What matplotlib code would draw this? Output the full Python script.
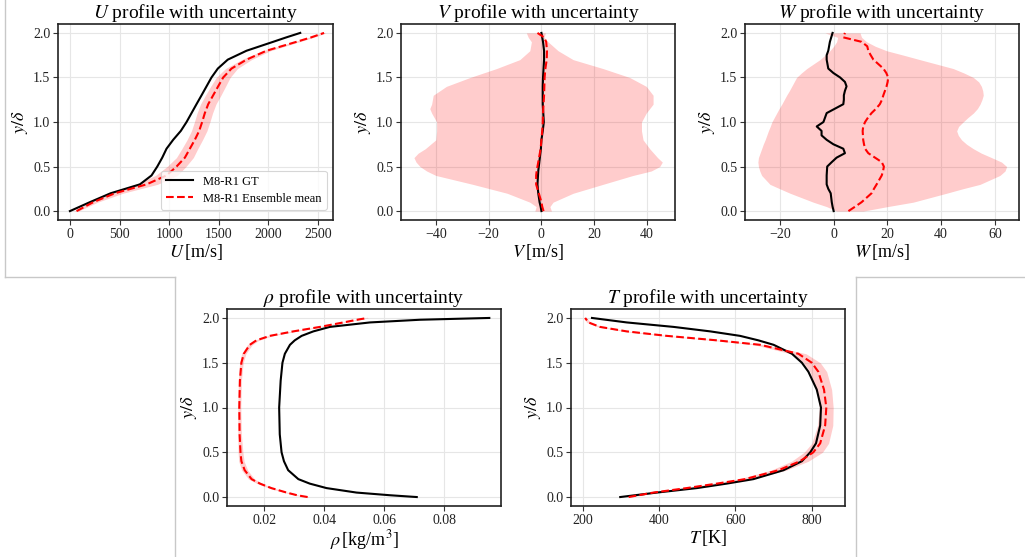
import matplotlib
matplotlib.use("Agg")
import matplotlib.pyplot as plt
from matplotlib.lines import Line2D
import numpy as np

plt.rcParams.update({
    'font.family': 'serif',
    'font.serif': ['Liberation Serif', 'DejaVu Serif'],
    'mathtext.fontset': 'stix',
    'font.size': 10,
    'axes.linewidth': 1.2,
    'axes.edgecolor': '#222222',
    'xtick.major.size': 3.5,
    'ytick.major.size': 3.5,
    'xtick.color': '#333333',
    'ytick.color': '#333333',
    'xtick.labelcolor': '#222222',
    'ytick.labelcolor': '#222222',
})

# ---- U profile ----
y_u = [0.0, 0.1, 0.2, 0.3, 0.4, 0.5, 0.6, 0.7, 0.8, 0.9, 1.0,
       1.1, 1.2, 1.3, 1.4, 1.5, 1.6, 1.7, 1.8, 1.9, 1.95, 2.0]
u_gt = [0, 201, 410, 705, 822, 880, 930, 973, 1040, 1117, 1175,
        1225, 1275, 1326, 1376, 1426, 1490, 1590, 1779, 2047, 2180, 2320]
u_mean = [67, 235, 453, 772, 973, 1074, 1158, 1208, 1258, 1302, 1332,
          1359, 1393, 1443, 1493, 1544, 1628, 1779, 1980, 2282, 2430, 2560]
u_spread = [20, 45, 80, 110, 110, 95, 85, 80, 78, 78, 78,
            78, 78, 78, 75, 70, 60, 50, 40, 30, 25, 20]

# ---- V profile ----
y_v = [0.0, 0.05, 0.1, 0.2, 0.3, 0.4, 0.45, 0.5, 0.55, 0.6, 0.65, 0.7, 0.8, 0.9, 1.0,
       1.1, 1.15, 1.2, 1.3, 1.4, 1.5, 1.6, 1.7, 1.8, 1.9, 1.95, 2.0]
v_gt = [0.0, -0.3, -0.7, -1.2, -1.5, -1.3, -1.2, -1.0, -0.8, -0.6, -0.4, -0.2, 0.0, 0.5, 0.9,
        0.7, 0.6, 0.5, 0.5, 0.5, 0.6, 0.8, 1.0, 1.0, 0.6, 0.3, 0.0]
v_mean = [0.8, 0.3, 0.0, -1.0, -2.0, -2.0, -1.8, -1.5, -1.2, -0.9, -0.6, -0.3, 0.0, 0.3, 0.5,
          0.6, 0.7, 0.8, 1.0, 1.1, 1.2, 1.5, 2.0, 2.1, 1.8, 1.0, -1.5]
v_lo = [-2.5, -2.0, -4.4, -13.0, -26.0, -40.0, -43.5, -46.0, -47.5, -48.3, -46.7, -44.0, -40.0, -39.7, -39.7,
        -41.6, -42.3, -41.6, -41.0, -36.0, -27.0, -17.0, -8.2, -4.4, -3.8, -5.0, -5.7]
v_hi = [3.8, 3.2, 4.4, 12.0, 23.3, 34.7, 41.6, 44.8, 45.8, 44.0, 42.5, 41.0, 38.5, 37.9, 37.9,
        39.7, 41.0, 42.3, 42.3, 39.7, 33.4, 23.3, 12.0, 6.3, 2.5, 1.0, 1.5]

# ---- W profile ----
y_w = [0.0, 0.05, 0.1, 0.2, 0.25, 0.3, 0.4, 0.45, 0.5, 0.55, 0.6, 0.65, 0.7, 0.75, 0.8, 0.85,
       0.9, 0.95, 1.0, 1.05, 1.1, 1.15, 1.2, 1.25, 1.3, 1.35, 1.4, 1.45, 1.5, 1.55, 1.6,
       1.7, 1.75, 1.8, 1.85, 1.9, 1.95, 2.0]
w_gt = [0.0, -0.4, -0.7, -1.1, -2.0, -2.6, -2.6, -2.5, -2.4, -0.7, 1.1, 4.2, 3.6, -0.1, -2.6, -4.5,
        -4.5, -6.3, -3.8, -3.2, -2.6, 0.5, 3.6, 3.8, 3.8, 4.2, 4.8, 4.2, 2.4, -0.1, -2.0,
        -2.6, -2.6, -2.0, -1.7, -1.4, -0.9, -0.4]
w_mean = [5.5, 8.0, 10.4, 14.1, 15.0, 16.0, 17.9, 18.4, 18.7, 17.9, 15.4, 12.9, 11.7, 11.3, 11.0, 10.9,
          10.8, 11.0, 11.7, 12.8, 14.1, 15.8, 17.2, 18.0, 18.5, 19.1, 19.7, 20.1, 20.3, 19.6, 18.5,
          14.8, 13.8, 12.9, 12.5, 10.4, 3.6, 4.2]
w_lo = [1.1, -2.6, -7.6, -16.2, -20.0, -23.7, -26.8, -27.5, -28.0, -28.2, -28.0, -27.4, -26.8, -26.2, -25.5, -24.9,
        -24.3, -23.6, -23.0, -22.1, -21.2, -20.3, -19.3, -18.4, -17.5, -16.5, -15.6, -14.7, -13.8, -12.0, -10.0,
        -5.1, -3.2, -1.4, 0.0, 1.1, 1.5, -3.2]
w_hi = [11.0, 20.0, 29.6, 42.0, 48.0, 54.5, 61.9, 63.8, 64.4, 62.5, 58.8, 55.0, 52.0, 49.5, 47.6, 46.4,
        45.8, 46.5, 48.2, 50.0, 52.0, 53.5, 54.5, 55.2, 55.7, 55.5, 55.0, 54.0, 52.0, 48.5, 44.5,
        32.1, 26.0, 19.7, 15.5, 12.3, 10.4, 9.8]

# ---- rho profile ----
y_r = [0.0, 0.02, 0.05, 0.1, 0.15, 0.2, 0.3, 0.4, 0.5, 0.7, 1.0, 1.3, 1.5, 1.6, 1.7, 1.75,
       1.8, 1.85, 1.9, 1.95, 1.98, 2.0]
r_gt = [0.0709, 0.0620, 0.0508, 0.0408, 0.0352, 0.0314, 0.0280, 0.0266, 0.0258, 0.0252, 0.0250,
        0.0255, 0.0261, 0.0269, 0.0286, 0.0302, 0.0325, 0.0364, 0.0419, 0.0553, 0.0720, 0.0951]
r_mean = [0.0345, 0.0310, 0.0275, 0.0224, 0.0186, 0.0158, 0.0135, 0.0124, 0.0121, 0.0118, 0.0117,
          0.0119, 0.0124, 0.0132, 0.0152, 0.0174, 0.0219, 0.0297, 0.0386, 0.0464, 0.0510, 0.0545]
r_spread = [0.0006, 0.0006, 0.0007, 0.0008, 0.0009, 0.0010, 0.0010, 0.0009, 0.0008, 0.0006, 0.0005,
            0.0005, 0.0006, 0.0007, 0.0008, 0.0008, 0.0008, 0.0008, 0.0008, 0.0007, 0.0006, 0.0005]

# ---- T profile ----
y_t = [0.0, 0.05, 0.1, 0.15, 0.2, 0.3, 0.4, 0.5, 0.6, 0.8, 1.0, 1.2, 1.4, 1.5, 1.6, 1.7,
       1.75, 1.8, 1.85, 1.9, 1.95, 2.0]
t_gt = [298, 394, 499, 577, 647, 726, 774, 796, 811, 822, 824, 813, 791, 774, 748, 700,
        660, 612, 534, 438, 315, 224]
t_mean = [320, 385, 472, 551, 625, 713, 769, 804, 822, 835, 838, 832, 817, 800, 765, 665,
          551, 420, 315, 245, 215, 206]
t_spread = [5, 10, 14, 16, 18, 20, 22, 24, 22, 20, 18, 20, 22, 22, 20, 15,
            12, 10, 8, 6, 5, 4]

band_color = (1.0, 0.0, 0.0, 0.2)


def draw_profile(ax, y, gt, mean, lo, hi, title, xlabel, xlim):
    ax.fill_betweenx(y, lo, hi, color=band_color, linewidth=0, zorder=2)
    ax.plot(gt, y, color='black', lw=1.5, label='M8-R1 GT', zorder=3)
    ax.plot(mean, y, color='red', lw=1.5, ls='--', label='M8-R1 Ensemble mean', zorder=4)
    ax.set_title(title, fontsize=14, pad=3)
    ax.set_xlabel(xlabel, fontsize=13, labelpad=1)
    ax.set_ylabel(r'$y/\delta$', fontsize=13, labelpad=2)
    ax.set_xlim(*xlim)
    ax.set_ylim(-0.1, 2.1)
    ax.set_yticks([0.0, 0.5, 1.0, 1.5, 2.0])
    ax.grid(True, color='#e6e6e6', linewidth=0.8, zorder=0)
    ax.set_axisbelow(True)
    ax.tick_params(labelsize=10, pad=2)


fig = plt.figure(figsize=(10.25, 5.57), dpi=100)
W, H = 1025, 557


def axes_px(left, top, right, bottom):
    return fig.add_axes([left / W, 1 - bottom / H, (right - left) / W, (bottom - top) / H])


ax_u = axes_px(58, 24, 333, 220)
ax_v = axes_px(401, 24, 675, 220)
ax_w = axes_px(745, 24, 1019, 220)
ax_r = axes_px(227, 309, 501, 506)
ax_t = axes_px(571, 309, 845, 506)

u_mean_a = np.array(u_mean, float)
u_sp = np.array(u_spread, float)
draw_profile(ax_u, y_u, u_gt, u_mean, u_mean_a - u_sp, u_mean_a + u_sp,
             r'$U$ profile with uncertainty', r'$U\,$[m/s]', (-120, 2650))
ax_u.set_xticks([0, 500, 1000, 1500, 2000, 2500])
leg = ax_u.legend(loc='lower right', fontsize=9, frameon=True, fancybox=True,
                  handlelength=2.2, borderpad=0.4, labelspacing=0.4,
                  bbox_to_anchor=(1.0, 0.02))
leg.get_frame().set_edgecolor('#cccccc')
leg.get_frame().set_linewidth(0.8)

draw_profile(ax_v, y_v, v_gt, v_mean, v_lo, v_hi,
             r'$V$ profile with uncertainty', r'$V\,$[m/s]', (-53.2, 50.6))
ax_v.set_xticks([-40, -20, 0, 20, 40])

draw_profile(ax_w, y_w, w_gt, w_mean, w_lo, w_hi,
             r'$W$ profile with uncertainty', r'$W\,$[m/s]', (-33, 69))
ax_w.set_xticks([-20, 0, 20, 40, 60])

r_mean_a = np.array(r_mean, float)
r_sp = np.array(r_spread, float)
draw_profile(ax_r, y_r, r_gt, r_mean, r_mean_a - r_sp, r_mean_a + r_sp,
             r'$\rho$ profile with uncertainty', r'$\rho\,$[kg/m$^3$]', (0.0076, 0.099))
ax_r.set_xticks([0.02, 0.04, 0.06, 0.08])

t_mean_a = np.array(t_mean, float)
t_sp = np.array(t_spread, float)
draw_profile(ax_t, y_t, t_gt, t_mean, t_mean_a - t_sp, t_mean_a + t_sp,
             r'$T$ profile with uncertainty', r'$T\,$[K]', (169, 887))
ax_t.set_xticks([200, 400, 600, 800])

# light frame lines left over from the panel layout
frame_kw = dict(color='#c8c8c8', lw=1.0, transform=fig.transFigure)
for xs, ys in [([5, 5], [0, 277]), ([5, 175], [277, 277]), ([175, 175], [277, 557]),
               ([856, 1025], [277, 277]), ([856, 856], [277, 557])]:
    fig.add_artist(Line2D([x / W for x in xs], [1 - v / H for v in ys], **frame_kw))

fig.savefig('out.png', dpi=100, facecolor='white')
